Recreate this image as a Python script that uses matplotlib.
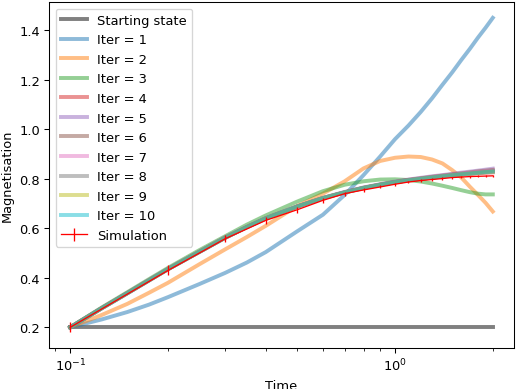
import numpy as np
import matplotlib
matplotlib.use('Agg')
import matplotlib.pyplot as plt

# time grid for the iteration curves
t = [0.1, 0.125, 0.15, 0.175, 0.2, 0.25, 0.3, 0.35, 0.4, 0.5, 0.6, 0.7, 0.8,
     0.9, 1.0, 1.1, 1.2, 1.3, 1.4, 1.5, 1.6, 1.7, 1.8, 1.9, 2.0]

start_state = [0.2] * len(t)
iter1 = [0.2, 0.232, 0.262, 0.292, 0.322, 0.375, 0.42, 0.462, 0.504, 0.588, 0.655, 0.735, 0.815,
         0.89, 0.96, 1.015, 1.07, 1.125, 1.18, 1.23, 1.28, 1.325, 1.37, 1.41, 1.45]
iter2 = [0.2, 0.25, 0.295, 0.34, 0.38, 0.455, 0.515, 0.565, 0.61, 0.69, 0.74, 0.79, 0.842,
         0.872, 0.885, 0.89, 0.888, 0.878, 0.862, 0.835, 0.805, 0.768, 0.735, 0.703, 0.668]
iter3 = [0.2, 0.28, 0.342, 0.395, 0.44, 0.512, 0.568, 0.615, 0.652, 0.708, 0.75, 0.776, 0.79,
         0.797, 0.798, 0.795, 0.789, 0.781, 0.772, 0.763, 0.754, 0.746, 0.74, 0.737, 0.737]
iter4 = [0.2, 0.277, 0.338, 0.39, 0.435, 0.505, 0.562, 0.605, 0.64, 0.688, 0.722, 0.745, 0.763,
         0.776, 0.786, 0.794, 0.8, 0.805, 0.809, 0.813, 0.816, 0.819, 0.822, 0.824, 0.826]
iter5 = [0.2, 0.278, 0.339, 0.391, 0.436, 0.506, 0.563, 0.606, 0.641, 0.689, 0.723, 0.747, 0.765,
         0.778, 0.789, 0.797, 0.804, 0.81, 0.815, 0.82, 0.825, 0.829, 0.833, 0.837, 0.841]
iter6 = [0.2, 0.277, 0.338, 0.39, 0.435, 0.505, 0.562, 0.605, 0.64, 0.688, 0.722, 0.746, 0.764,
         0.777, 0.787, 0.796, 0.802, 0.808, 0.813, 0.818, 0.822, 0.826, 0.83, 0.833, 0.836]
iter7 = [0.2, 0.277, 0.338, 0.39, 0.435, 0.505, 0.562, 0.605, 0.64, 0.688, 0.722, 0.745, 0.763,
         0.776, 0.786, 0.795, 0.801, 0.807, 0.812, 0.816, 0.82, 0.824, 0.827, 0.83, 0.833]
iter8 = [0.2, 0.277, 0.338, 0.39, 0.435, 0.505, 0.562, 0.605, 0.64, 0.688, 0.722, 0.745, 0.763,
         0.776, 0.786, 0.794, 0.8, 0.806, 0.811, 0.815, 0.819, 0.822, 0.825, 0.828, 0.831]
iter9 = [0.2, 0.277, 0.338, 0.39, 0.435, 0.505, 0.562, 0.605, 0.64, 0.688, 0.722, 0.745, 0.763,
         0.776, 0.786, 0.794, 0.8, 0.805, 0.81, 0.814, 0.818, 0.821, 0.824, 0.827, 0.829]
iter10 = [0.2, 0.277, 0.338, 0.39, 0.435, 0.505, 0.562, 0.605, 0.64, 0.688, 0.722, 0.745, 0.763,
          0.776, 0.786, 0.794, 0.8, 0.805, 0.81, 0.814, 0.818, 0.821, 0.824, 0.827, 0.829]
iters = [iter1, iter2, iter3, iter4, iter5, iter6, iter7, iter8, iter9, iter10]

# simulation points with error bars
t_sim = [0.1, 0.2, 0.3, 0.4, 0.5, 0.6, 0.7, 0.8, 0.9, 1.0,
         1.1, 1.2, 1.3, 1.4, 1.5, 1.6, 1.7, 1.8, 1.9, 2.0]
m_sim = [0.2, 0.43, 0.558, 0.632, 0.675, 0.713, 0.74, 0.755, 0.767, 0.778,
         0.787, 0.793, 0.797, 0.801, 0.805, 0.807, 0.809, 0.81, 0.811, 0.812]
err_sim = [0.02, 0.02, 0.015, 0.013, 0.012, 0.011, 0.008, 0.007, 0.006, 0.006,
           0.005, 0.005, 0.005, 0.005, 0.004, 0.004, 0.004, 0.004, 0.004, 0.004]

DPI = 94
fig = plt.figure(figsize=(516 / DPI, 390 / DPI), dpi=DPI)
ax = fig.add_axes([0.095, 0.105, 0.901, 0.887])

ax.plot(t, start_state, color='gray', lw=3, label='Starting state')
for i, y in enumerate(iters):
    ax.plot(t, y, color=f'C{i}', lw=3, alpha=0.5, label=f'Iter = {i + 1}')
ax.errorbar(t_sim, m_sim, yerr=err_sim, color='red', lw=1, label='Simulation')

ax.set_xscale('log')
ax.set_xlabel('Time')
ax.set_ylabel('Magnetisation')
ax.legend(loc='upper left')

fig.savefig('out.png', dpi=DPI)
